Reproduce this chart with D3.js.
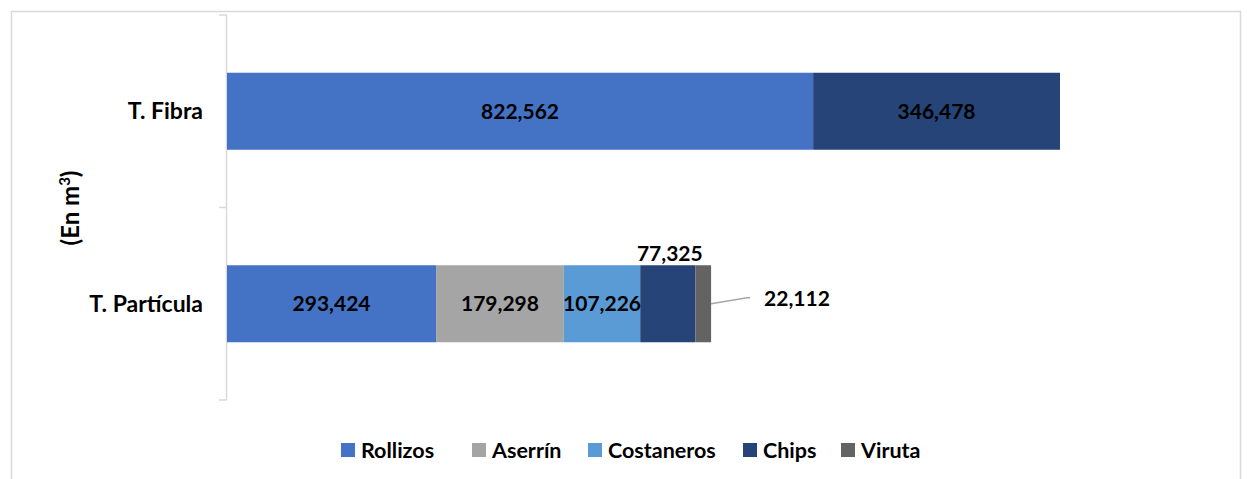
<!DOCTYPE html>
<html><head><meta charset="utf-8">
<script src="https://cdn.jsdelivr.net/npm/d3@7"></script>
<style>body{margin:0;background:#fff;} svg{display:block;} text{font-family:Lato,"Open Sans",sans-serif;font-weight:bold;fill:#000;}</style>
</head><body><svg id="c" width="1247" height="479"></svg>
<script>
const categories = ["T. Fibra", "T. Partícula"];
const seriesNames = ["Rollizos", "Aserrín", "Costaneros", "Chips", "Viruta"];
const seriesColors = ["#4472C4", "#A5A5A5", "#5B9BD5", "#264478", "#636363"];
const rollizos = [822562, 293424];
const aserrin = [0, 179298];
const costaneros = [0, 107226];
const chips = [346478, 77325];
const viruta = [0, 22112];

const seriesValues = [rollizos, aserrin, costaneros, chips, viruta];
const svg = d3.select("#c");
svg.append("rect").attr("x",11.5).attr("y",11.5).attr("width",1229).attr("height",480)
  .attr("fill","none").attr("stroke","#d9d9d9").attr("stroke-width",1.5);

const x0 = 227;
const x = d3.scaleLinear().domain([0, 1169040]).range([x0, 1060]);
const y = d3.scaleBand().domain(categories).range([15, 400]).paddingInner(0.6).paddingOuter(0.3);

svg.append("line").attr("x1",x0-0.5).attr("x2",x0-0.5).attr("y1",15).attr("y2",400).attr("stroke","#d9d9d9").attr("stroke-width",1.5);
[15, 207.5, 400].forEach(t=>svg.append("line").attr("x1",x0-8).attr("x2",x0).attr("y1",t).attr("y2",t).attr("stroke","#d9d9d9").attr("stroke-width",1.5));

const rows = categories.map((c,i)=>{const o={cat:c}; seriesNames.forEach((s,j)=>o[s]=seriesValues[j][i]); return o;});
const stack = d3.stack().keys(seriesNames)(rows);
const fmt = d3.format(",");
stack.forEach((layer,j)=>{
  layer.forEach(d=>{
    const v = d[1]-d[0];
    if(v<=0) return;
    svg.append("rect").attr("x",x(d[0])).attr("y",y(d.data.cat)).attr("width",x(d[1])-x(d[0])).attr("height",y.bandwidth())
      .attr("fill",seriesColors[j]);
  });
});
const LF = 21;
stack.forEach((layer,j)=>{
  layer.forEach(d=>{
    const v = d[1]-d[0];
    if(v<=0) return;
    const name = seriesNames[j];
    const cx = (x(d[0])+x(d[1]))/2, cy = y(d.data.cat)+y.bandwidth()/2;
    const yb = y(d.data.cat);
    if(d.data.cat==="T. Partícula" && name==="Chips"){
      svg.append("text").attr("x",cx+2).attr("y",yb-4).attr("text-anchor","middle").attr("font-size",LF).text(fmt(v));
    } else if(d.data.cat==="T. Partícula" && name==="Viruta"){
      const x1 = x(d[1]);
      svg.append("path").attr("d",`M${x1},${cy} L${x1+36},${cy-6} L${x1+39},${cy-6}`).attr("fill","none").attr("stroke","#a6a6a6").attr("stroke-width",1.5);
      svg.append("text").attr("x",x1+53).attr("y",cy-5).attr("dy","0.35em").attr("font-size",LF).text(fmt(v));
    } else {
      svg.append("text").attr("x",cx).attr("y",cy).attr("dy","0.35em").attr("text-anchor","middle").attr("font-size",LF).text(fmt(v));
    }
  });
});
categories.forEach(c=>svg.append("text").attr("x",203).attr("y",y(c)+y.bandwidth()/2).attr("dy","0.35em").attr("text-anchor","end").attr("font-size",23).text(c));
const yt = svg.append("text").attr("transform","translate(79,208) rotate(-90)").attr("text-anchor","middle").attr("font-size",24);
yt.append("tspan").text("(En m");
yt.append("tspan").attr("font-size",15).attr("dy",-9).text("3");
yt.append("tspan").attr("dy",9).text(")");
const legX = [341, 472, 588, 743, 841];
seriesNames.forEach((s,j)=>{
  svg.append("rect").attr("x",legX[j]).attr("y",443).attr("width",14).attr("height",14).attr("fill",seriesColors[j]);
  svg.append("text").attr("x",legX[j]+20).attr("y",450).attr("dy","0.35em").attr("font-size",21.5).text(s);
});
</script></body></html>
